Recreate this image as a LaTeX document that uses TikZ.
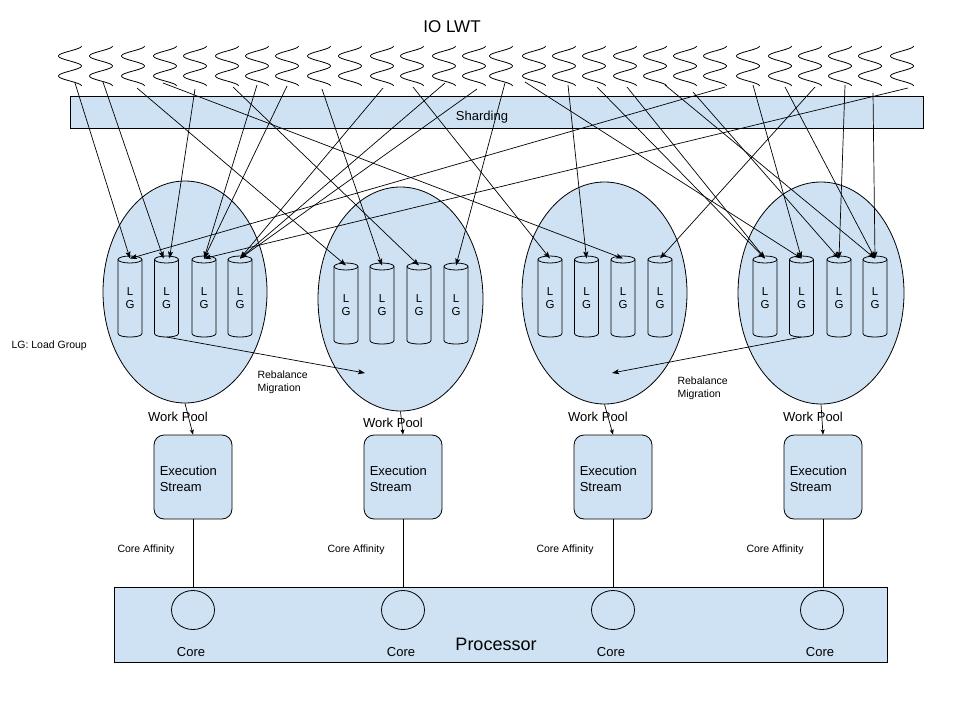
\documentclass[tikz,border=0pt]{standalone}
\usepackage{fontspec}
\setmainfont{Liberation Sans}
\usetikzlibrary{arrows.meta,shapes.geometric,calc}
\definecolor{lblue}{HTML}{CFE2F3}
\tikzset{
  ftitle/.style={font=\fontsize{17}{20}\selectfont},
  fmid/.style={font=\fontsize{13}{16}\selectfont},
  fsm/.style={font=\fontsize{10.5}{13}\selectfont},
  fproc/.style={font=\fontsize{18}{21}\selectfont},
  lgtext/.style={font=\fontsize{11.5}{13}\selectfont, align=center, inner sep=0pt},
  boxrect/.style={draw, fill=lblue, line width=0.8pt, inner sep=0pt},
  pool/.style={ellipse, draw, fill=lblue, line width=0.8pt, inner sep=0pt},
  esbox/.style={draw, fill=lblue, line width=0.8pt, rounded corners=10pt, minimum width=78pt, minimum height=84pt, inner sep=0pt},
  estext/.style={fmid, align=left, anchor=west, inner sep=0pt},
  coreel/.style={ellipse, draw, fill=lblue, line width=0.8pt, minimum width=43pt, minimum height=39pt, inner sep=0pt},
  squig/.style={line width=0.8pt},
  arr/.style={-{Stealth[length=7pt,width=5pt,inset=1.5pt]}, line width=0.7pt},
  smallarr/.style={-{Stealth[length=5pt,width=4pt,inset=1pt]}, line width=0.7pt},
  plainline/.style={line width=0.8pt},
  lgcyl/.pic={
    \fill[lblue] (-12,3.5) -- (-12,77.5) .. controls (-12,82.2) and (12,82.2) .. (12,77.5) -- (12,3.5) -- cycle;
    \draw[line width=0.8pt] (-12,3.5) -- (-12,77.5) .. controls (-12,82.2) and (12,82.2) .. (12,77.5) -- (12,3.5);
    \filldraw[fill=lblue, line width=0.8pt] (0,3.5) ellipse[x radius=12, y radius=3.5];
    \node[lgtext] (-txt) at (0,42.5) {L\\G};
    \coordinate (-t) at (0,2.5);
    \coordinate (-tl) at (-3,2.5);
    \coordinate (-tr) at (3,2.5);
    \coordinate (-b) at (0,81);
  }
}
\begin{document}
\begin{tikzpicture}[x=1pt,y=-1pt]
\useasboundingbox (0,0) rectangle (960,720);
\fill[white] (0,0) rectangle (960,720);

% title
\node[ftitle] (title) at (452,27) {IO LWT};

% sharding bar
\node[boxrect, minimum width=853pt, minimum height=32pt] (shard) at (496.5,112) {};
\node[fmid] (shardtxt) at (482,117.5) {Sharding};

% squiggles (IO LWT)
\foreach \xl in {58,89,121,153,183,215,245,275,307,338,370,400,432,462,489,522,552,582,613,643,673,703,736,768,798,828,858,890}{
  \draw[squig] plot[domain=0:720, samples=61, smooth, variable=\t] ({\xl+12+11.5*cos(\t)},{46+\t/18});
}

% work pools
\node[pool, minimum width=164pt, minimum height=222pt] (e1) at (185,292) {};
\node[pool, minimum width=165pt, minimum height=224pt] (e2) at (400.5,299) {};
\node[pool, minimum width=165pt, minimum height=222pt] (e3) at (604.5,293) {};
\node[pool, minimum width=166pt, minimum height=222pt] (e4) at (821,293) {};

% load groups
\pic (g1c1) at (130,256) {lgcyl};
\pic (g1c2) at (166.5,256) {lgcyl};
\pic (g1c3) at (204,256) {lgcyl};
\pic (g1c4) at (240,256) {lgcyl};
\pic (g2c1) at (346,263) {lgcyl};
\pic (g2c2) at (382,263) {lgcyl};
\pic (g2c3) at (419,263) {lgcyl};
\pic (g2c4) at (456,263) {lgcyl};
\pic (g3c1) at (550,256) {lgcyl};
\pic (g3c2) at (586.5,256) {lgcyl};
\pic (g3c3) at (623,256) {lgcyl};
\pic (g3c4) at (660,256) {lgcyl};
\pic (g4c1) at (765,256) {lgcyl};
\pic (g4c2) at (801.5,256) {lgcyl};
\pic (g4c3) at (839,256) {lgcyl};
\pic (g4c4) at (875,256) {lgcyl};

% arrow start points on the LWT squiggles
\coordinate (a1) at (75,83);
\coordinate (a2) at (103,82);
\coordinate (a3) at (137,88);
\coordinate (a4) at (163,83);
\coordinate (a5) at (195,89);
\coordinate (a6) at (233,87);
\coordinate (a7) at (257,85);
\coordinate (a8) at (287,86);
\coordinate (a9) at (322,89);
\coordinate (a10) at (383,88);
\coordinate (a11) at (445,83);
\coordinate (a12) at (477,89);
\coordinate (a13) at (413,87);
\coordinate (a14) at (505,83);
\coordinate (a15) at (525,82);
\coordinate (a16) at (568,85);
\coordinate (a17) at (597,87);
\coordinate (a18) at (627,87);
\coordinate (a19) at (665,85);
\coordinate (a20) at (693,92);
\coordinate (a21) at (725,87);
\coordinate (a22) at (753,85);
\coordinate (a23) at (785,87);
\coordinate (a24) at (815,87);
\coordinate (a25) at (845,85);
\coordinate (a26) at (873,93);
\coordinate (a27) at (908,88);

\foreach \s/\tg in {a1/g1c1-t, a2/g1c2-tl, a3/g2c1-t, a4/g3c3-t, a5/g1c2-tr,
  a6/g2c3-t, a7/g1c3-t, a8/g1c3-t, a9/g2c2-t, a10/g1c4-t, a11/g1c4-t,
  a12/g1c4-t, a13/g3c1-t, a14/g2c4-t, a15/g4c2-t, a16/g3c2-t, a17/g4c1-t,
  a18/g4c1-t, a19/g4c4-t, a20/g4c3-t, a21/g1c1-t, a22/g4c2-t, a23/g4c4-t,
  a24/g3c4-t, a25/g4c3-t, a26/g4c4-t, a27/g1c3-t}{
  \draw[arr] (\s) -- (\tg);
}

% rebalance migration
\coordinate (m1) at (365,373);
\coordinate (m2) at (612,373);
\draw[arr] (g1c2-b) -- (m1);
\draw[arr] (g4c2-b) -- (m2);
\node[fsm, align=left, anchor=west] (rb1) at (254,382) {Rebalance\\Migration};
\node[fsm, align=left, anchor=west] (rb2) at (674,388) {Rebalance\\Migration};

\node[fsm, anchor=west] (legend) at (8,345.5) {LG: Load Group};

% work pool labels
\node[fmid] (wp1) at (178,416.5) {Work Pool};
\node[fmid] (wp2) at (393,422.5) {Work Pool};
\node[fmid] (wp3) at (598,416.5) {Work Pool};
\node[fmid] (wp4) at (813,416.5) {Work Pool};

% execution streams
\node[esbox] (es1) at (193,477) {};
\node[esbox] (es2) at (403,477) {};
\node[esbox] (es3) at (613,477) {};
\node[esbox] (es4) at (823,477) {};
\foreach \k in {1,2,3,4}{
  \node[estext] (es\k t) at ($(es\k.west)+(6,1.5)$) {Execution\\Stream};
}

\draw[smallarr] (e1.south) -- (es1.north);
\draw[smallarr] (e2.south) -- (es2.north);
\draw[smallarr] (e3.south) -- (es3.north);
\draw[smallarr] (e4.south) -- (es4.north);

% processor
\node[boxrect, minimum width=773pt, minimum height=75pt] (proc) at (500.5,624.5) {};
\node[fproc] (proctxt) at (496,644.5) {Processor};

\node[coreel] (core1) at (193,610) {};
\node[coreel] (core2) at (403,610) {};
\node[coreel] (core3) at (613,610) {};
\node[coreel] (core4) at (822,610) {};

\node[fmid] (cl1) at (191,652.5) {Core};
\node[fmid] (cl2) at (401,652.5) {Core};
\node[fmid] (cl3) at (611,652.5) {Core};
\node[fmid] (cl4) at (820,652.5) {Core};

\foreach \k in {1,2,3,4}{
  \draw[plainline] (es\k.south) -- (es\k.south |- proc.north);
}

\node[fsm] (ca1) at (146,549.5) {Core Affinity};
\node[fsm] (ca2) at (356,549.5) {Core Affinity};
\node[fsm] (ca3) at (565,549.5) {Core Affinity};
\node[fsm] (ca4) at (775,549.5) {Core Affinity};
\end{tikzpicture}
\end{document}
